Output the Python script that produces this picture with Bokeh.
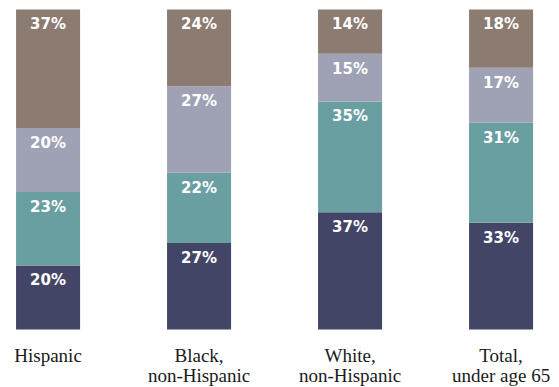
from bokeh.plotting import figure
from bokeh.models import Range1d, ColumnDataSource
from bokeh.embed import file_html
from bokeh.resources import INLINE
from bokeh.core.properties import value

# ---- data ----
categories = ["Hispanic", "Black,\nnon-Hispanic", "White,\nnon-Hispanic", "Total,\nunder age 65"]
series_names = ["navy", "teal", "gray", "brown"]  # bottom -> top
navy = [20, 27, 37, 33]
teal = [23, 22, 35, 31]
gray = [20, 27, 15, 17]
brown = [37, 24, 14, 18]
colors = ["#434567", "#6a9fa2", "#9fa2b4", "#8c7b70"]

series = [navy, teal, gray, brown]

W, H = 559, 387
p = figure(width=W, height=H, output_backend="svg", toolbar_location=None,
           x_range=Range1d(-0.315, 3.387), y_range=Range1d(-18.125, 102.81),
           min_border=0, outline_line_color=None)
p.axis.visible = False
p.grid.visible = False
p.background_fill_color = "white"
p.border_fill_color = "white"

xs = list(range(len(categories)))
totals = [sum(s[i] for s in series) for i in xs]

bottoms = [0.0] * len(xs)
for vals, col in zip(series, colors):
    scaled = [v * 100.0 / t for v, t in zip(vals, totals)]
    tops = [b + s for b, s in zip(bottoms, scaled)]
    src = ColumnDataSource(dict(x=xs, bottom=bottoms, top=tops,
                                label=[f"{v}%" for v in vals]))
    p.vbar(x="x", bottom="bottom", top="top", width=0.424, source=src,
           fill_color=col, line_color=None)
    p.text(x="x", y="top", text="label", source=src, text_color="white",
           text_font=value("DejaVu Sans"), text_font_style="bold",
           text_font_size="15px", text_align="center",
           text_baseline="alphabetic", y_offset=15)
    bottoms = tops

line1 = [c.split("\n")[0] for c in categories]
line2 = [c.split("\n")[1] if "\n" in c else "" for c in categories]
for lines, off in ((line1, 26), (line2, 46)):
    p.text(x=xs, y=[0] * len(xs), text=lines, text_color="#1a1a1a",
           text_font=value("Liberation Serif"), text_font_size="19px",
           text_align="center", text_baseline="alphabetic", y_offset=off)

open("out.html", "w").write(file_html(p, INLINE))
